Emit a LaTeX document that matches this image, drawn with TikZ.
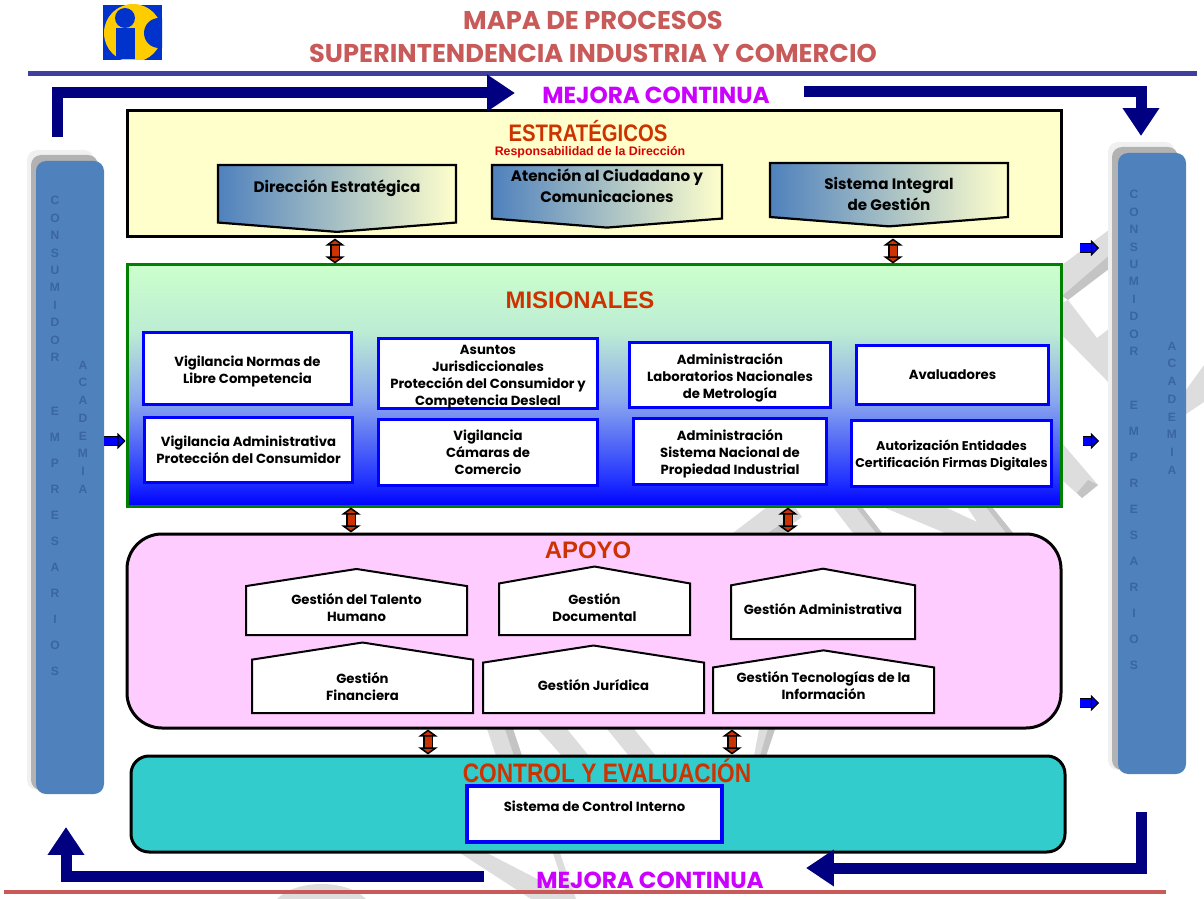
\documentclass[tikz,border=0pt]{standalone}
\usepackage{fontspec}
\setmainfont{Poppins}
\newfontfamily\redfont{Liberation Sans}
\newfontfamily\narrowfont[FakeStretch=0.85]{Liberation Sans}
\usetikzlibrary{arrows.meta,positioning,shapes.symbols}
\newlength{\px}
\setlength{\px}{0.025cm}
\definecolor{titlered}{HTML}{C85A5A}
\definecolor{rulenavy}{HTML}{3F3F9F}
\definecolor{arrownavy}{HTML}{000080}
\definecolor{headred}{HTML}{CC3300}
\definecolor{barblue}{HTML}{4F81BD}
\definecolor{barletter}{HTML}{3A66A0}
\definecolor{cream}{HTML}{FFFFCC}
\definecolor{mint}{HTML}{CCFFCC}
\definecolor{misA}{HTML}{2030FF}
\definecolor{misB}{HTML}{8AA8EE}
\definecolor{misC}{HTML}{BCECD4}
\definecolor{pinkbg}{HTML}{FFCCFF}
\definecolor{tealbg}{HTML}{33CCCC}
\definecolor{logoblue}{HTML}{0033CC}
\definecolor{logoyellow}{HTML}{FFCC00}
\definecolor{mejora}{HTML}{CC00FF}
\definecolor{wmlight}{HTML}{DDDDDD}
\definecolor{wmdark}{HTML}{C4C4C4}
\pgfdeclareverticalshading{misfade}{100bp}{color(0bp)=(blue); color(25bp)=(blue); color(30bp)=(misA); color(47bp)=(misB); color(61bp)=(misC); color(75bp)=(mint); color(100bp)=(mint)}

\begin{document}
\begin{tikzpicture}[
  x=1\px, y=-1\px,
  font=\fontsize{9.4}{12}\selectfont\bfseries,
  wm/.style={fill=wmlight},
  wmd/.style={fill=wmdark},
  panel/.style={draw=black, line width=3\px, inner sep=0pt},
  bluebox/.style={draw=blue, line width=3.5\px, fill=white, align=center, inner sep=0pt},
  stratbox/.style={signal, signal to=south, signal from=nowhere, signal pointer angle=171, draw=black, line width=2.2\px,
    left color=barblue, right color=cream, align=center, inner sep=0pt, anchor=north, font=\fontsize{10.8}{15}\selectfont\bfseries},
  housebox/.style={signal, signal to=north, signal from=nowhere, signal pointer angle=162.4, draw=black, line width=2\px,
    fill=white, align=center, inner sep=0pt, anchor=south},
  head/.style={font=\redfont\fontsize{17}{18}\selectfont\bfseries, text=headred, inner sep=0pt},
  narrowhead/.style={text=headred, inner sep=0pt, font=\narrowfont\fontsize{#1}{18}\selectfont\bfseries},
  bar/.style={rounded corners=10\px, inner sep=0pt, minimum width=68\px},
  letters/.style={align=center, text=barletter, inner sep=0pt, font=\redfont\fontsize{8.6}{#1}\selectfont\bfseries},
  mejoratxt/.style={text=mejora, inner sep=0pt, font=\fontsize{16.5}{18}\selectfont\bfseries},
  loopline/.style={-{Triangle[length=19.9pt, width=24.9pt]}, line width=11\px, arrownavy, line join=miter},
  updown/.style={{Triangle[length=5pt, width=13.5pt, fill=headred]}-{Triangle[length=5pt, width=13.5pt, fill=headred]},
    draw=black, line width=1.5\px, double=headred, double distance=7\px},
  toright/.style={-{Triangle[length=5.7pt, width=11.4pt, fill=blue]}, draw=black, line width=1.2\px, double=blue, double distance=8\px}
]
\useasboundingbox (0,0) rectangle (1204,899);

% background lattice
\fill[wm] (1062,265) -- (1118,223) -- (1118,250) -- (1062,296) -- cycle;
\fill[wmd] (1118,248) -- (1118,262) -- (1068,300) -- (1062,296) -- cycle;
\fill[wm] (1062,303) -- (1068,300) -- (1097,338) -- (1118,322) -- (1118,392) -- (1062,335) -- cycle;
\fill[wm] (1186,390) -- (1204,365) -- (1204,402) -- (1186,414) -- cycle;
\fill[wm] (1062,443) -- (1098,485) -- (1082,498) -- (1062,480) -- cycle;
\fill[wmd] (1098,485) -- (1088,480) -- (1077,493) -- (1082,498) -- cycle;
\fill[wm] (733,533) -- (767,507) -- (795,507) -- (802,517) -- (780,533) -- cycle;
\fill[wmd] (768,533) -- (787,520) -- (794,525) -- (785,533) -- cycle;
\fill[wm] (833,507) -- (853,533) -- (882,533) -- (862,507) -- cycle;
\fill[wmd] (856,507) -- (876,533) -- (882,533) -- (862,507) -- cycle;
\fill[wm] (883,507) -- (945,507) -- (977,522) -- (967,507) -- (992,507) -- (1013,533) -- (945,533) -- cycle;
\fill[wmd] (986,507) -- (1006,533) -- (1013,533) -- (992,507) -- cycle;
\fill[wm] (487,729) -- (496,756) -- (522,756) -- (513,729) -- cycle;
\fill[wmd] (505,729) -- (514,756) -- (522,756) -- (513,729) -- cycle;
\fill[wm] (538,729) -- (562,756) -- (589,756) -- (567,729) -- cycle;
\fill[wm] (607,729) -- (629,756) -- (656,756) -- (634,729) -- cycle;
\fill[wm] (759,729) -- (775,729) -- (766,756) -- (754,756) -- cycle;
\fill[wmd] (768,729) -- (775,729) -- (766,756) -- (760,756) -- cycle;
\fill[wm] (460,853) -- (487,853) -- (576,899) -- (531,899) -- cycle;
\fill[wm] (553,853) -- (560,853) -- (576,899) -- (568,899) -- cycle;
\fill[wm] (277,899) .. controls (295,880) and (345,878) .. (366,899) -- cycle;

% logo
\fill[logoblue] (103,5) rectangle (162,60);
\begin{scope}
\clip (103,5) rectangle (162,60);
\fill[logoyellow] (133,33) circle (29);
\fill[logoblue] (159,33) circle (15);
\end{scope}
\fill[logoblue] (116,28) rectangle (135,59);
\fill[logoblue] (125,18) circle (10);

% title
\node[text=titlered, align=center, inner sep=0pt, font=\fontsize{18.3}{24}\selectfont\bfseries] (title) at (593,37) {MAPA DE PROCESOS\\SUPERINTENDENCIA INDUSTRIA Y COMERCIO};
\coordinate (ruleTopL) at (28,74);
\coordinate (ruleTopR) at (1197,74);
\draw[rulenavy, line width=5\px] (ruleTopL) -- (ruleTopR);
\coordinate (ruleBotL) at (4,892);
\coordinate (ruleBotR) at (1166,892);
\draw[titlered, line width=4\px] (ruleBotL) -- (ruleBotR);

\node[mejoratxt] (mejoraTop) at (656,95) {MEJORA CONTINUA};
\node[mejoratxt] (mejoraBot) at (650,880) {MEJORA CONTINUA};

% side bars
\fill[black!6, rounded corners=10\px] (27,150) rectangle (94,790);
\fill[black!30, rounded corners=10\px] (31,155) rectangle (98,790);
\node[bar, fill=barblue, minimum height=633\px] (barL) at (70,477.5) {};
\fill[black!6, rounded corners=10\px] (1108,142) rectangle (1175,770);
\fill[black!30, rounded corners=10\px] (1112,147) rectangle (1178,770);
\node[bar, fill=barblue, minimum height=621\px] (barR) at (1152,463.5) {};
\node[letters=12.4] (lcons) at (55,279) {C\\O\\N\\S\\U\\M\\I\\D\\O\\R};
\node[letters=18.5] (lempr) at (55,541) {E\\M\\P\\R\\E\\S\\A\\R\\I\\O\\S};
\node[letters=12.6] (lacad) at (83,427) {A\\C\\A\\D\\E\\M\\I\\A};
\node[letters=12.4] (rcons) at (1134,273) {C\\O\\N\\S\\U\\M\\I\\D\\O\\R};
\node[letters=18.5] (rempr) at (1134,535) {E\\M\\P\\R\\E\\S\\A\\R\\I\\O\\S};
\node[letters=12.6] (racad) at (1172,408) {A\\C\\A\\D\\E\\M\\I\\A};

% estrategicos
\node[panel, fill=cream, minimum width=934\px, minimum height=126\px] (est) at (594,174) {};
\node[narrowhead=17] (esttitle) at (588,131) {ESTRATÉGICOS};
\node[inner sep=0pt, text=red!85!black, font=\redfont\fontsize{8.8}{9}\selectfont\bfseries] (estsub) at (590,152) {Responsabilidad de la Dirección};
\node[stratbox, minimum width=238\px, minimum height=64\px] (dir) at (337,164) {Dirección  Estratégica\\[-5\px]};
\node[stratbox, minimum width=230\px, minimum height=61\px] (aten) at (607,164) {Atención al Ciudadano y\\Comunicaciones\\[-8\px]};
\node[stratbox, minimum width=238\px, minimum height=59\px] (sig) at (889,162) {\rule{0pt}{20\px}Sistema Integral\\de Gestión};

% misionales
\node[panel, draw=green!50!black, shading=misfade, minimum width=934\px, minimum height=241\px] (mis) at (594,385.5) {};
\node[head] (mistitle) at (580,300) {MISIONALES};
\node[bluebox, minimum width=208\px, minimum height=72\px] (vnorm) at (247.5,368.5) {\rule{0pt}{16\px}Vigilancia  Normas de\\Libre Competencia};
\node[bluebox, minimum width=208\px, minimum height=65\px] (vadm) at (248.5,450) {Vigilancia  Administrativa\\Protección del Consumidor};
\node[bluebox, minimum width=219\px, minimum height=70\px] (asun) at (488,373.5) {\rule{0pt}{16\px}Asuntos\\Jurisdiccionales\\Protección del Consumidor  y\\Competencia Desleal};
\node[bluebox, minimum width=219\px, minimum height=66\px] (vcam) at (488,452.5) {Vigilancia\\Cámaras de\\Comercio};
\node[bluebox, minimum width=201\px, minimum height=65\px] (alab) at (730,375) {\rule{0pt}{16\px}Administración\\Laboratorios Nacionales\\de Metrología};
\node[bluebox, minimum width=193\px, minimum height=66\px] (asis) at (730,451.5) {\rule{0pt}{16\px}Administración\\Sistema Nacional de\\Propiedad Industrial};
\node[bluebox, minimum width=192\px, minimum height=59\px] (aval) at (952.5,375) {Avaluadores};
\node[bluebox, minimum width=200\px, minimum height=66\px, font=\fontsize{9}{12}\selectfont\bfseries] (aut) at (951.5,453.5) {\rule{0pt}{15\px}Autorización  Entidades\\Certificación Firmas Digitales};

% apoyo
\node[panel, fill=pinkbg, rounded corners=35\px, minimum width=934\px, minimum height=194\px] (apo) at (594,631) {};
\node[head] (apotitle) at (588,550) {APOYO};
\node[housebox, minimum width=221\px, minimum height=59\px] (gtal) at (356.5,636) {Gestión del Talento\\Humano\\[-11\px]};
\node[housebox, signal pointer angle=159.9, minimum width=191\px, minimum height=59\px] (gdoc) at (594.5,636) {Gestión\\Documental\\[-13\px]};
\node[housebox, signal pointer angle=159.5, minimum width=184\px, minimum height=68\px] (gadm) at (823,640) {Gestión Administrativa\\[-11\px]};
\node[housebox, minimum width=221\px, minimum height=59\px] (gfin) at (362.5,714) {Gestión\\Financiera};
\node[housebox, minimum width=221\px, minimum height=59\px] (gjur) at (593.5,714) {Gestión Jurídica\\[-11\px]};
\node[housebox, minimum width=221\px, minimum height=59\px] (gtec) at (823.5,714) {Gestión Tecnologías de la\\Información\\[-7\px]};

% control
\node[panel, fill=tealbg, rounded corners=18\px, minimum width=934\px, minimum height=96\px] (ctl) at (598,804) {};
\node[narrowhead=19] (ctltitle) at (607,771) {CONTROL Y EVALUACIÓN};
\node[bluebox, minimum width=255\px, minimum height=56\px] (sci) at (594.5,814) {Sistema de Control Interno\\[-1\px]};

% links
\draw[updown] (335,0 |- est.south) -- (335,0 |- mis.north);
\draw[updown] (893,0 |- est.south) -- (893,0 |- mis.north);
\draw[updown] (351,0 |- mis.south) -- (351,0 |- apo.north);
\draw[updown] (788,0 |- mis.south) -- (788,0 |- apo.north);
\draw[updown] (428,0 |- apo.south) -- (428,0 |- ctl.north);
\draw[updown] (732,0 |- apo.south) -- (732,0 |- ctl.north);

% small arrows
\coordinate (pA) at (1080,248);
\coordinate (pB) at (1099,248);
\coordinate (pC) at (1083,441);
\coordinate (pD) at (1099,441);
\coordinate (pE) at (1080,703);
\coordinate (pF) at (1099,703);
\draw[toright] (barL.east |- 0,441) -- (mis.west |- 0,441);
\draw[toright] (pA) -- (pB);
\draw[toright] (pC) -- (pD);
\draw[toright] (pE) -- (pF);

% improvement loop
\coordinate (loopA) at (57,137);
\coordinate (loopB) at (515,93);
\coordinate (loopC) at (804,92);
\coordinate (loopD) at (1141,136);
\coordinate (loopE) at (1141,812);
\coordinate (loopF) at (806,868);
\coordinate (loopG) at (484,876);
\coordinate (loopH) at (66,827);
\draw[loopline] (loopA) |- (loopB);
\draw[loopline] (loopC) -| (loopD);
\draw[loopline] (loopE) |- (loopF);
\draw[loopline] (loopG) -| (loopH);
\end{tikzpicture}
\end{document}
